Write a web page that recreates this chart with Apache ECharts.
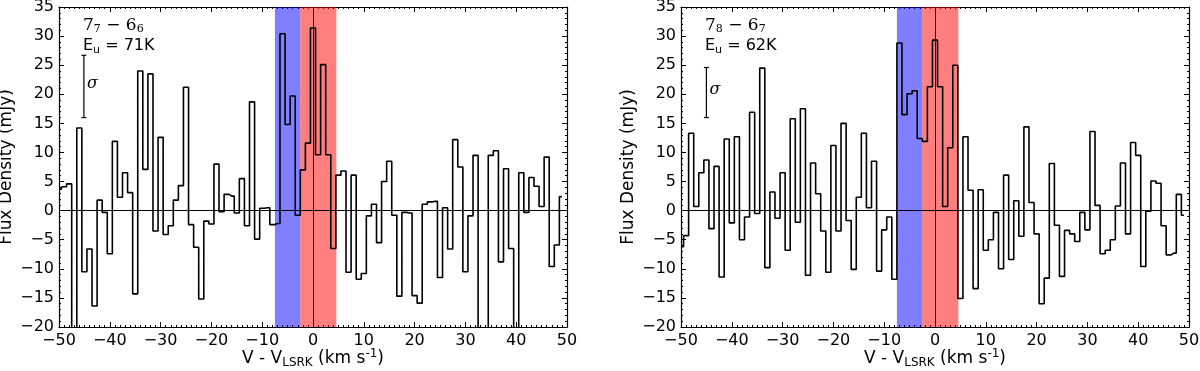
<!DOCTYPE html>
<html><head><meta charset="utf-8">
<script src="https://cdn.jsdelivr.net/npm/echarts@6/dist/echarts.min.js"></script>
<style>html,body{margin:0;padding:0;background:#fff}#c{width:1200px;height:371px}</style>
</head><body><div id="c"></div>
<script>
// Channel centres (km/s)
const velocity = [-50,-49,-48,-47,-46,-45,-44,-43,-42,-41,-40,-39,-38,-37,-36,-35,-34,-33,-32,-31,-30,-29,-28,-27,-26,-25,-24,-23,-22,-21,-20,-19,-18,-17,-16,-15,-14,-13,-12,-11,-10,-9,-8,-7,-6,-5,-4,-3,-2,-1,0,1,2,3,4,5,6,7,8,9,10,11,12,13,14,15,16,17,18,19,20,21,22,23,24,25,26,27,28,29,30,31,32,33,34,35,36,37,38,39,40,41,42,43,44,45,46,47,48,49];
// Flux density (mJy), 7_7 - 6_6 line
const flux77 = [3.7,4.1,4.6,-25,14.2,-10.5,-6.6,-16.4,1.8,-0.3,-7.4,11.9,2.3,6.5,3.1,-14.3,24.0,7.1,23.5,-3.5,12.6,-4.1,-2.6,1.8,4.3,21.2,-2.4,-6.3,-15.2,-1.8,-2.3,8.0,-0.2,2.8,2.5,-0.4,5.5,-2.6,18.7,-4.9,0.4,0.5,-2.4,-2.2,30.4,14.8,19.7,-0.8,7.0,11.6,31.4,9.6,25.1,9.6,-6.5,6.1,6.8,-10.6,6.1,-11.8,-10.8,-0.9,1.1,-5.5,5.0,8.5,-0.8,-14.7,-0.3,-0.4,-14.6,-15.9,1.1,1.5,1.6,-11.5,0.5,-6.6,12.2,7.5,-10.5,-0.9,9.5,-24,-23,9.5,10.3,-8.8,7.2,-6.5,-22,6.5,-0.3,5.7,4.2,0.7,9.2,-9.6,-5.9,2.4];
// Flux density (mJy), 7_8 - 6_7 line
const flux87 = [-6.2,-4.3,13.3,0.7,6.5,8.7,-3.1,7.6,-11.4,12.3,-2.1,12.7,-5.0,-1.1,16.9,-0.5,24.5,-9.8,3.2,-1.3,6.5,-6.8,15.8,-2.0,17.5,-11.1,8.2,2.9,-3.5,-10.6,11.2,-3.5,15.0,-1.7,-10.1,2.3,13.3,0.5,8.5,-10.4,-3.3,-1.1,-11.8,28.8,16.5,20.1,20.6,12.4,11.9,21.3,29.3,21.3,0.7,10.8,25.0,-15.1,12.7,3.5,-13.4,3.6,-6.8,-5.0,-0.3,-10.0,6.1,-8.4,1.7,-4.4,14.4,1.4,-4.0,-16.0,-11.6,8.1,-2.5,-11.3,-3.4,-4.0,-5.3,-0.3,-3.3,13.6,0.9,-7.4,-6.8,-5.0,0.8,8.2,-4.0,11.7,9.5,-9.6,-0.1,5.1,4.7,-2.6,-7.6,-7.3,2.8,-0.8];
const blueBand = [-7.5, -2.5];
const redBand = [-2.5, 4.6];
// [velocity, low, high] of the sigma bar
const sigmaBar77 = [-45.1, 16.0, 26.7];
const sigmaBar87 = [-45.0, 16.0, 24.6];
const transitionLabels = ['7{s|7} \u2212 6{s|6}', '7{s|8} \u2212 6{s|7}'];
const energyLabels = ['E{u|u} = 71K', 'E{u|u} = 62K'];

const panels = [
  {flux: flux77, sigma: sigmaBar77, left: 59, tl: transitionLabels[0], el: energyLabels[0]},
  {flux: flux87, sigma: sigmaBar87, left: 681, tl: transitionLabels[1], el: energyLabels[1]}
];
const FONT = '"DejaVu Sans", sans-serif';
const minus = v => v < 0 ? '\u2212' + Math.abs(v) : String(v);

const grids = [], xAxes = [], yAxes = [], series = [], graphics = [];
panels.forEach((p, i) => {
  grids.push({left: p.left, top: 7, width: 508, height: 320, containLabel: false, outerBoundsMode: 'none'});
  const common = {
    type: 'value', gridIndex: i, splitLine: {show: false},
    axisLine: {show: true, onZero: false, lineStyle: {color: '#000', width: 1.2}},
    axisTick: {show: true, inside: true, length: 5, lineStyle: {color: '#000', width: 1}},
  };
  xAxes.push(Object.assign({}, common, {
    position: 'bottom', min: -50, max: 50, interval: 10,
    minorTick: {show: true, splitNumber: 10, length: 2, lineStyle: {color: '#000', width: 1}},
    axisLabel: {show: true, margin: 6, color: '#000', fontSize: 16, fontFamily: FONT, formatter: minus},
    name: 'V - V{sub|LSRK} (km s{sup|-1})', nameLocation: 'middle', nameGap: 21, nameMoveOverlap: false,
    nameTextStyle: {color: '#000', fontSize: 17, fontFamily: FONT,
      rich: {sub: {fontSize: 12, fontFamily: FONT, color: '#000', padding: [9, 0, 0, 0]},
             sup: {fontSize: 12, fontFamily: FONT, color: '#000', padding: [0, 0, 9, 0]}}}
  }));
  xAxes.push(Object.assign({}, common, {
    position: 'top', min: -50, max: 50, interval: 10,
    minorTick: {show: true, splitNumber: 10, length: 2, lineStyle: {color: '#000', width: 1}},
    axisLabel: {show: false}
  }));
  yAxes.push(Object.assign({}, common, {
    position: 'left', min: -20, max: 35, interval: 5,
    minorTick: {show: true, splitNumber: 5, length: 2, lineStyle: {color: '#000', width: 1}},
    axisLabel: {show: true, margin: 5, color: '#000', fontSize: 16, fontFamily: FONT, formatter: minus},
    name: 'Flux Density (mJy)', nameLocation: 'middle', nameGap: 44, nameMoveOverlap: false,
    nameTextStyle: {color: '#000', fontSize: 17, fontFamily: FONT}
  }));
  yAxes.push(Object.assign({}, common, {
    position: 'right', min: -20, max: 35, interval: 5,
    minorTick: {show: true, splitNumber: 5, length: 2, lineStyle: {color: '#000', width: 1}},
    axisLabel: {show: false}
  }));
  series.push({
    type: 'line', step: 'middle', xAxisIndex: 2 * i, yAxisIndex: 2 * i,
    data: velocity.map((v, j) => [v, p.flux[j]]),
    showSymbol: false, symbol: 'none', clip: true, z: 3,
    lineStyle: {color: '#000', width: 1.6}, silent: true,
    markArea: {silent: true, z: 1, data: [
      [{xAxis: blueBand[0], itemStyle: {color: 'rgba(0,0,255,0.5)'}}, {xAxis: blueBand[1]}],
      [{xAxis: redBand[0], itemStyle: {color: 'rgba(255,0,0,0.5)'}}, {xAxis: redBand[1]}]
    ]},
    markLine: {silent: true, symbol: 'none', z: 5, animation: false,
      lineStyle: {color: '#000', width: 1, type: 'solid'}, label: {show: false},
      emphasis: {disabled: true},
      data: [{yAxis: 0}, {xAxis: 0}]}
  });
  series.push({
    type: 'custom', xAxisIndex: 2 * i, yAxisIndex: 2 * i, z: 4, silent: true,
    data: [p.sigma],
    renderItem(params, api) {
      const x = api.value(0), lo = api.value(1), hi = api.value(2);
      const a = api.coord([x, lo]), b = api.coord([x, hi]);
      const st = {stroke: '#000', lineWidth: 1.2};
      return {type: 'group', children: [
        {type: 'line', shape: {x1: a[0], y1: a[1], x2: b[0], y2: b[1]}, style: st},
        {type: 'line', shape: {x1: a[0] - 2.5, y1: a[1], x2: a[0] + 2.5, y2: a[1]}, style: st},
        {type: 'line', shape: {x1: b[0] - 2.5, y1: b[1], x2: b[0] + 2.5, y2: b[1]}, style: st},
        {type: 'text', x: a[0] + 3, y: (a[1] + b[1]) / 2 - 3,
         style: {text: '\u03c3', font: 'italic 16px "DejaVu Serif"', fill: '#000', align: 'left', verticalAlign: 'middle'}}
      ]};
    }
  });
  graphics.push({type: 'text', left: p.left + 24, top: 17, z: 10,
    style: {text: p.tl, font: '17px "DejaVu Serif"', fill: '#000',
      rich: {s: {fontSize: 11, fontFamily: '"DejaVu Serif"', fill: '#000', padding: [8, 0, 0, 0]}}}});
  graphics.push({type: 'text', left: p.left + 24, top: 38, z: 10,
    style: {text: p.el, font: '16px "DejaVu Sans"', fill: '#000',
      rich: {u: {fontSize: 11, fontFamily: '"DejaVu Sans"', fill: '#000', padding: [8, 0, 0, 0]}}}});
});

const chart = echarts.init(document.getElementById('c'), null, {renderer: 'canvas'});
chart.setOption({
  animation: false, backgroundColor: '#fff',
  grid: grids, xAxis: xAxes, yAxis: yAxes, series: series, graphic: graphics
});
</script>
</body></html>
